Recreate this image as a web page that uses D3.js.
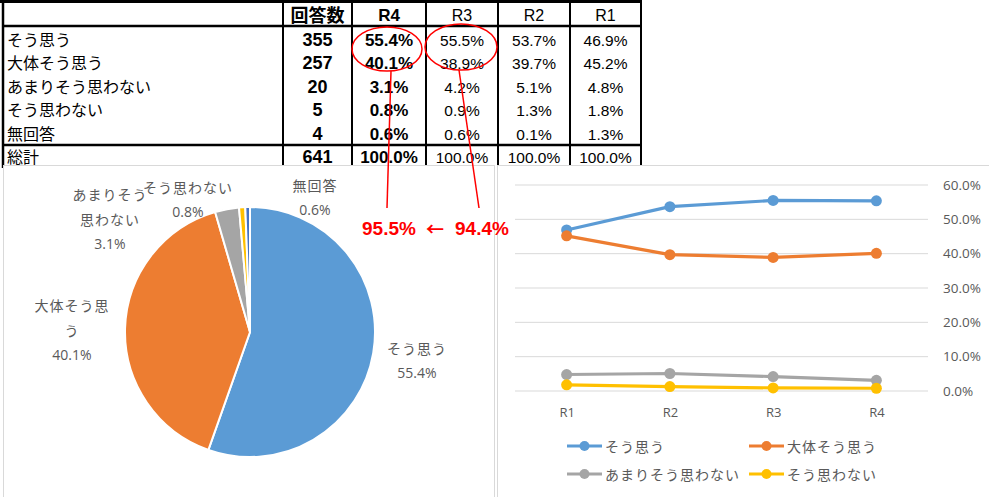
<!DOCTYPE html>
<html>
<head>
<meta charset="utf-8">
<script src="https://cdn.jsdelivr.net/npm/d3@7"></script>
<style>
  body { margin: 0; background: #fff; }
  svg { display: block; }
</style>
</head>
<body>
<svg id="chart" width="989" height="497"></svg>
<script>
// table data
const answers = ["そう思う", "大体そう思う", "あまりそう思わない", "そう思わない", "無回答"];
const counts = [355, 257, 20, 5, 4];
const totalCount = 641;
const rounds = ["R4", "R3", "R2", "R1"];
const pctR4 = [55.4, 40.1, 3.1, 0.8, 0.6];
const pctR3 = [55.5, 38.9, 4.2, 0.9, 0.6];
const pctR2 = [53.7, 39.7, 5.1, 1.3, 0.1];
const pctR1 = [46.9, 45.2, 4.8, 1.8, 1.3];
const totalPct = [100.0, 100.0, 100.0, 100.0];

// line chart
const lineRounds = ["R1", "R2", "R3", "R4"];
const lineTicks = [0, 0.1, 0.2, 0.3, 0.4, 0.5, 0.6];

// top-two share, this year vs last year
const annotationNow = "95.5%";
const annotationPrev = "94.4%";

const colors = ["#5B9BD5", "#ED7D31", "#A5A5A5", "#FFC000", "#4472C4"];
const gray = "#595959";
const jp = "'Noto Sans CJK JP', 'Noto Sans', sans-serif";
const num = "'Liberation Sans', Arial, sans-serif";
const chartFont = "'Open Sans', 'Noto Sans', sans-serif";

const svg = d3.select("#chart");

// ---- table ----
const colEdges = [3, 283, 352, 426, 498, 570, 641];
const headerY = 14;
const rowY = [39, 62, 86, 109, 133];
const totalY = 156;
const colMid = i => (colEdges[i] + colEdges[i + 1]) / 2;
const pctCols = [pctR4, pctR3, pctR2, pctR1];

const table = svg.append("g");

table.append("text")
    .attr("x", colMid(1)).attr("y", headerY)
    .attr("text-anchor", "middle").attr("dominant-baseline", "central")
    .attr("font-family", jp).attr("font-weight", "bold").attr("font-size", 18)
    .text("回答数");

rounds.forEach((r, j) => {
    table.append("text")
        .attr("x", colMid(j + 2)).attr("y", headerY + 1)
        .attr("text-anchor", "middle").attr("dominant-baseline", "central")
        .attr("font-family", num)
        .attr("font-weight", j === 0 ? "bold" : "normal")
        .attr("font-size", j === 0 ? 17 : 16)
        .text(r);
});

answers.forEach((a, i) => {
    table.append("text")
        .attr("x", 7).attr("y", rowY[i])
        .attr("dominant-baseline", "central")
        .attr("font-family", jp).attr("font-size", 16)
        .text(a);
    table.append("text")
        .attr("x", colMid(1)).attr("y", rowY[i] + 1)
        .attr("text-anchor", "middle").attr("dominant-baseline", "central")
        .attr("font-family", num).attr("font-weight", "bold").attr("font-size", 18)
        .text(counts[i]);
    pctCols.forEach((col, j) => {
        table.append("text")
            .attr("x", colMid(j + 2)).attr("y", rowY[i] + 1)
            .attr("text-anchor", "middle").attr("dominant-baseline", "central")
            .attr("font-family", num)
            .attr("font-weight", j === 0 ? "bold" : "normal")
            .attr("font-size", j === 0 ? 17 : 15.5)
            .text(col[i].toFixed(1) + "%");
    });
});

table.append("text")
    .attr("x", 7).attr("y", totalY)
    .attr("dominant-baseline", "central")
    .attr("font-family", jp).attr("font-size", 16)
    .text("総計");
table.append("text")
    .attr("x", colMid(1)).attr("y", totalY + 1)
    .attr("text-anchor", "middle").attr("dominant-baseline", "central")
    .attr("font-family", num).attr("font-weight", "bold").attr("font-size", 18)
    .text(totalCount);
totalPct.forEach((v, j) => {
    table.append("text")
        .attr("x", colMid(j + 2)).attr("y", totalY + 1)
        .attr("text-anchor", "middle").attr("dominant-baseline", "central")
        .attr("font-family", num)
        .attr("font-weight", j === 0 ? "bold" : "normal")
        .attr("font-size", j === 0 ? 17 : 15.5)
        .text(v.toFixed(1) + "%");
});

// table rules
table.append("line").attr("x1", 0).attr("x2", 642).attr("y1", 1.5).attr("y2", 1.5)
    .attr("stroke", "#000").attr("stroke-width", 3);
table.append("line").attr("x1", 3).attr("x2", 642).attr("y1", 26).attr("y2", 26)
    .attr("stroke", "#000").attr("stroke-width", 2.5);
table.append("line").attr("x1", 3).attr("x2", 642).attr("y1", 145).attr("y2", 145)
    .attr("stroke", "#000").attr("stroke-width", 2.5);
colEdges.forEach((x, i) => {
    table.append("line").attr("x1", x).attr("x2", x).attr("y1", 0).attr("y2", 168)
        .attr("stroke", "#000").attr("stroke-width", i === 0 ? 2.5 : 2);
});

// ---- chart panels ----
svg.append("rect").attr("x", 3.5).attr("y", 165.5).attr("width", 491).attr("height", 340)
    .attr("fill", "#fff").attr("stroke", "#D9D9D9");
svg.append("rect").attr("x", 497.5).attr("y", 165.5).attr("width", 500).attr("height", 340)
    .attr("fill", "#fff").attr("stroke", "#D9D9D9");

// ---- pie ----
const pieCenter = [250, 332];
const radius = 125;
const pie = d3.pie().sort(null).value(d => d);
const arc = d3.arc().innerRadius(0).outerRadius(radius);

const pieG = svg.append("g")
    .attr("transform", `translate(${pieCenter[0]},${pieCenter[1]})`);
pieG.selectAll("path")
    .data(pie(pctR4))
    .join("path")
    .attr("d", arc)
    .attr("fill", (d, i) => colors[i])
    .attr("stroke", "#fff")
    .attr("stroke-width", 2);

// pie label layout (Excel-positioned text blocks)
const pieLabelLayout = [
    { lines: ["そう思う"], x: 417, y: 348 },
    { lines: ["大体そう思", "う"], x: 72, y: 305 },
    { lines: ["あまりそう", "思わない"], x: 110, y: 194 },
    { lines: ["そう思わない"], x: 188, y: 187 },
    { lines: ["無回答"], x: 315, y: 185 }
];
pieLabelLayout.forEach((l, i) => {
    const t = svg.append("g");
    l.lines.forEach((s, k) => {
        t.append("text")
            .attr("x", l.x).attr("y", l.y + k * 25)
            .attr("text-anchor", "middle").attr("dominant-baseline", "central")
            .attr("font-family", jp).attr("font-size", 14)
            .attr("letter-spacing", "1px")
            .attr("fill", gray)
            .text(s);
    });
    t.append("text")
        .attr("x", l.x).attr("y", l.y + l.lines.length * 24.5)
        .attr("text-anchor", "middle").attr("dominant-baseline", "central")
        .attr("font-family", chartFont).attr("font-size", 14)
        .attr("fill", gray)
        .text(pctR4[i].toFixed(1) + "%");
});

// ---- line chart ----
const x = d3.scalePoint().domain(lineRounds).range([515, 928]).padding(0.5);
const y = d3.scaleLinear().domain([0, 0.6]).range([391, 185]);

const lineG = svg.append("g");
lineG.selectAll("line.grid")
    .data(lineTicks)
    .join("line")
    .attr("class", "grid")
    .attr("x1", 515).attr("x2", 928)
    .attr("y1", d => y(d)).attr("y2", d => y(d))
    .attr("stroke", "#D9D9D9").attr("stroke-width", 1);

const yAxis = lineG.append("g")
    .attr("transform", "translate(928,0)")
    .call(d3.axisRight(y).tickValues(lineTicks).tickSize(0).tickPadding(15).tickFormat(d3.format(".1%")));
yAxis.select(".domain").remove();
yAxis.selectAll("text").attr("font-family", chartFont).attr("font-size", 13.5).attr("fill", gray);

const xAxis = lineG.append("g")
    .attr("transform", "translate(0,391)")
    .call(d3.axisBottom(x).tickSize(0).tickPadding(17));
xAxis.select(".domain").remove();
xAxis.selectAll("text").attr("font-family", chartFont).attr("font-size", 13).attr("fill", gray);

const seriesPct = [pctR1, pctR2, pctR3, pctR4];
const series = answers.slice(0, 4).map((name, i) => ({
    name: name,
    color: colors[i],
    values: lineRounds.map((r, k) => ({ round: r, value: seriesPct[k][i] / 100 }))
}));

const line = d3.line().x(d => x(d.round)).y(d => y(d.value));

series.forEach(s => {
    lineG.append("path")
        .datum(s.values)
        .attr("fill", "none")
        .attr("stroke", s.color)
        .attr("stroke-width", 3.2)
        .attr("stroke-linejoin", "round")
        .attr("d", line);
    lineG.selectAll(null)
        .data(s.values)
        .join("circle")
        .attr("cx", d => x(d.round))
        .attr("cy", d => y(d.value))
        .attr("r", 5.5)
        .attr("fill", s.color);
});

// legend
const legendPos = [[567, 446], [749, 446], [567, 474], [749, 474]];
series.forEach((s, i) => {
    const [lx, ly] = legendPos[i];
    const g = svg.append("g");
    g.append("line").attr("x1", lx).attr("x2", lx + 35).attr("y1", ly).attr("y2", ly)
        .attr("stroke", s.color).attr("stroke-width", 3);
    g.append("circle").attr("cx", lx + 17.5).attr("cy", ly).attr("r", 5).attr("fill", s.color);
    g.append("text")
        .attr("x", lx + 38).attr("y", ly)
        .attr("dominant-baseline", "central")
        .attr("font-family", jp).attr("font-size", 14)
        .attr("letter-spacing", "1px")
        .attr("fill", gray)
        .text(s.name);
});

// ---- red annotations ----
const red = "#FF0000";
svg.append("ellipse").attr("cx", 387).attr("cy", 49).attr("rx", 35).attr("ry", 22)
    .attr("fill", "none").attr("stroke", red).attr("stroke-width", 1.5);
svg.append("ellipse").attr("cx", 461).attr("cy", 47).attr("rx", 36).attr("ry", 23)
    .attr("fill", "none").attr("stroke", red).attr("stroke-width", 1.5);
svg.append("line").attr("x1", 391).attr("y1", 71).attr("x2", 387).attr("y2", 208)
    .attr("stroke", red).attr("stroke-width", 1.5);
svg.append("line").attr("x1", 459).attr("y1", 70).attr("x2", 479).attr("y2", 208)
    .attr("stroke", red).attr("stroke-width", 1.5);

const note = svg.append("g")
    .attr("fill", red).attr("font-weight", "bold");
note.append("text")
    .attr("x", 362).attr("y", 228)
    .attr("dominant-baseline", "central")
    .attr("font-family", num).attr("font-size", 19)
    .text(annotationNow);
note.append("text")
    .attr("x", 435).attr("y", 228)
    .attr("text-anchor", "middle").attr("dominant-baseline", "central")
    .attr("font-family", jp).attr("font-size", 18)
    .text("←");
note.append("text")
    .attr("x", 455).attr("y", 228)
    .attr("dominant-baseline", "central")
    .attr("font-family", num).attr("font-size", 19)
    .text(annotationPrev);
</script>
</body>
</html>
